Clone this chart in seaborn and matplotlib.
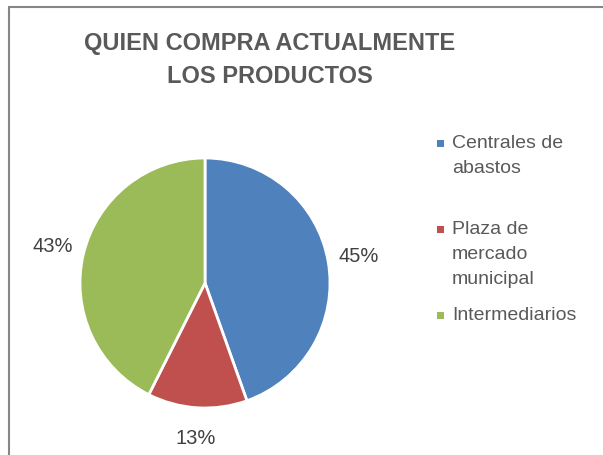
import seaborn as sns
import matplotlib.pyplot as plt
from matplotlib.patches import Rectangle
from matplotlib.lines import Line2D

# data
categories = ["Centrales de\nabastos", "Plaza de\nmercado\nmunicipal", "Intermediarios"]
values = [45, 13, 43]
colors = ["#4F81BD", "#C0504D", "#9BBB59"]
title = "QUIEN COMPRA ACTUALMENTE\nLOS PRODUCTOS"

sns.set_theme(style="white")
plt.rcParams["font.family"] = ["Liberation Sans", "DejaVu Sans"]

W, H = 603, 455
fig = plt.figure(figsize=(W / 100, H / 100), dpi=100)
ax = fig.add_axes([0, 0, 1, 1])

txt = "#595959"

# pie, clockwise from the top
ax.pie(values, colors=sns.color_palette(colors), startangle=90,
       counterclock=False, center=(205, H - 283), radius=125,
       autopct=lambda p: f"{p:.0f}%", pctdistance=1.25,
       wedgeprops=dict(edgecolor="white", linewidth=2),
       textprops=dict(color="#404040", fontsize=14.5), frame=True)
ax.set_xlim(0, W)
ax.set_ylim(0, H)
ax.set_aspect("equal")
ax.axis("off")

# title
fig.text(270 / W, 1 - 60 / H, title, ha="center", va="center", fontsize=17,
         fontweight="bold", color=txt, linespacing=1.6)

# legend (drawn by hand, to keep Excel's uneven spacing)
leg_y = [143, 229, 315]
for y, lab, c in zip(leg_y, categories, colors):
    ax.add_patch(Rectangle((437, H - y - 3.5), 7, 7, facecolor=c, edgecolor="none"))
    ax.text(452, H - y + 8, lab, ha="left", va="top", fontsize=14, color=txt,
            linespacing=1.6)

# chart frame (cropped on right and bottom)
fig.add_artist(Line2D([8.5 / W, 1], [1 - 6.5 / H, 1 - 6.5 / H], color="#868686", lw=1.5))
fig.add_artist(Line2D([8.5 / W, 8.5 / W], [0, 1 - 6.5 / H], color="#868686", lw=1.5))

fig.savefig("out.png", dpi=100)
